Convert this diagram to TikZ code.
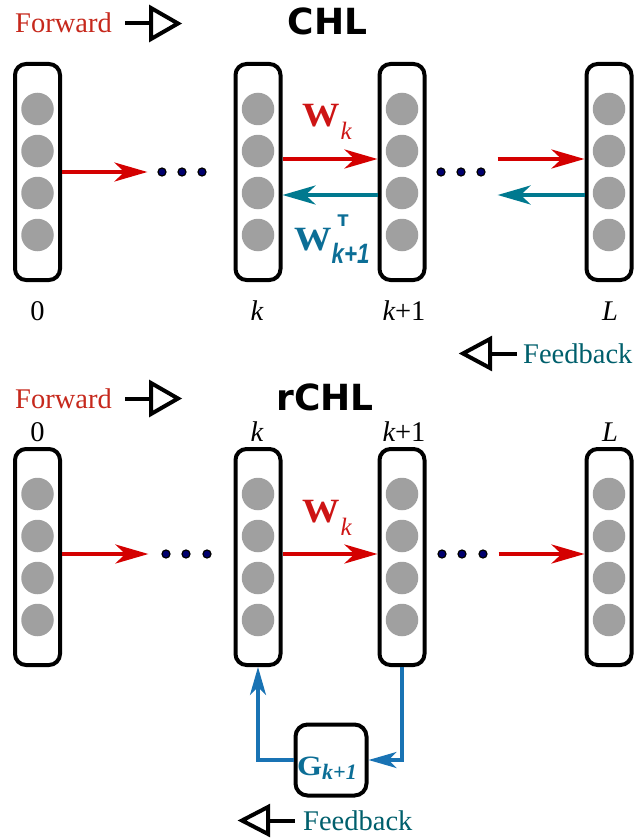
\documentclass[tikz,border=0pt]{standalone}
\usepackage{fontspec}
\usepackage{graphicx}
\newfontfamily\tms{Liberation Serif}
\newfontfamily\tmsbf{Liberation Serif Bold}
\newfontfamily\dvs{DejaVu Sans}
\newfontfamily\lsans{Liberation Sans}
\usetikzlibrary{arrows.meta}
\definecolor{fwdred}{RGB}{198,40,28}
\definecolor{arrred}{RGB}{212,0,0}
\definecolor{wred}{RGB}{205,20,20}
\definecolor{teal1}{RGB}{0,121,143}
\definecolor{wblue}{RGB}{12,110,150}
\definecolor{fbteal}{RGB}{0,95,108}
\definecolor{fbblue}{RGB}{25,115,180}
\definecolor{neur}{RGB}{160,160,160}
\definecolor{dotc}{RGB}{0,0,110}
\tikzset{
  layer/.style={draw=black, line width=4pt, rounded corners=11pt, minimum width=45pt, minimum height=216pt, inner sep=0pt, fill=white},
  neuron/.style={circle, fill=neur, minimum size=32.5pt, inner sep=0pt},
  dotn/.style={circle, fill=dotc, draw=black, line width=1.2pt, minimum size=8pt, inner sep=0pt},
  fwdarr/.style={draw=arrred, line width=4pt, -{Stealth[length=33pt, width=19pt, inset=10pt]}},
  bckarr/.style={draw=teal1, line width=4pt, -{Stealth[length=33pt, width=19pt, inset=10pt]}},
  fbarr/.style={draw=fbblue, line width=3.3pt, -{Stealth[length=28pt, width=16pt, inset=8pt]}},
  gbox/.style={draw=black, line width=4pt, rounded corners=12pt, minimum size=71pt, inner sep=0pt, fill=white},
  lbl/.style={anchor=base, inner sep=0pt, font=\tms\fontsize{28.5}{30}\selectfont},
  legtext/.style={anchor=base west, inner sep=0pt, font=\tms\fontsize{28.5}{30}\selectfont},
  title/.style={anchor=base, inner sep=0pt, font=\dvs\bfseries\fontsize{36}{36}\selectfont},
  sym/.style={draw=black, line width=4pt},
  wlbl/.style={anchor=base west, inner sep=0pt}
}
\newcommand{\bigW}{\scalebox{1.1}[1]{\tmsbf\fontsize{34}{34}\selectfont W}}
\newcommand{\Wk}{\bigW\kern1pt\raisebox{-13pt}{\tms\itshape\fontsize{25}{25}\selectfont k}}
\begin{document}
\begin{tikzpicture}[x=1pt,y=-1pt]
\useasboundingbox (0,0) rectangle (636,840);

% ---------- top (CHL) ----------
\foreach \nm/\xx in {L0/37.5, Lk/258, Lk1/402, LL/609}{
  \node[layer] (\nm) at (\xx,172) {};
  \foreach \i/\dy in {1/-63,2/-21,3/21,4/63}
    \node[neuron] (\nm-\i) at (\xx,172+\dy) {};
}
\foreach \i/\xx in {1/162,2/182,3/202} \node[dotn] (td0\i) at (\xx,172) {};
\foreach \i/\xx in {1/441,2/461,3/481} \node[dotn] (tdk\i) at (\xx,172) {};

\draw[fwdarr] (L0.east) -- ([xshift=-10pt]td01.west);
\draw[fwdarr] ([yshift=13pt]Lk.east) -- ([yshift=13pt]Lk1.west);
\draw[bckarr] ([yshift=-23pt]Lk1.west) -- ([yshift=-23pt]Lk.east);
\draw[fwdarr] ([xshift=12pt,yshift=13pt]tdk3.east) -- ([yshift=13pt]LL.west);
\draw[bckarr] ([yshift=-23pt]LL.west) -- ([xshift=12pt,yshift=-23pt]tdk3.east);

\node[wlbl, text=wred] (wk1) at (302,127) {\Wk};
\node[wlbl, text=wblue] (wt1) at (294,250) {\bigW\rlap{\hspace{6pt}\raisebox{24pt}{\dvs\bfseries\fontsize{16}{16}\selectfont T}}\raisebox{-13pt}{\scalebox{0.8}[1]{\lsans\bfseries\itshape\fontsize{28}{28}\selectfont k+1}}};

\node[lbl] (t0) at (37.5,320) {0};
\node[lbl] (tk) at (257,320) {\itshape k};
\node[lbl] (tk1) at (404,320) {{\itshape k}+1};
\node[lbl] (tL) at (610,320) {\itshape L};

\node[title] (chl) at (327.5,35) {CHL};
\node[legtext, text=fwdred] (fwd1) at (15,33) {Forward};
\draw[sym] (125,23.5) -- (151,23.5);
\draw[sym] (151,8) -- (151,39) -- (178,23.5) -- cycle;

\node[legtext, text=fbteal] (fb1) at (523,363) {Feedback};
\draw[sym] (490,353.5) -- (517,353.5);
\draw[sym] (490,339) -- (490,368) -- (463,353.5) -- cycle;

% ---------- bottom (rCHL) ----------
\foreach \nm/\xx in {B0/37.5, Bk/258, Bk1/402, BL/609}{
  \node[layer] (\nm) at (\xx,557) {};
  \foreach \i/\dy in {1/-63,2/-21,3/21,4/63}
    \node[neuron] (\nm-\i) at (\xx,557+\dy) {};
}
\foreach \i/\xx in {1/166,2/186,3/207} \node[dotn] (bd0\i) at (\xx,554) {};
\foreach \i/\xx in {1/442,2/462,3/483} \node[dotn] (bdk\i) at (\xx,554) {};

\draw[fwdarr] ([yshift=3pt]B0.east) -- ([xshift=-13pt]bd01.west);
\draw[fwdarr] ([yshift=3pt]Bk.east) -- ([yshift=3pt]Bk1.west);
\draw[fwdarr] ([xshift=11pt]bdk3.east) -- ([yshift=3pt]BL.west);

\node[wlbl, text=wred] (wk2) at (302,522) {\Wk};

\node[lbl] (b0) at (37.5,441) {0};
\node[lbl] (bk) at (257,441) {\itshape k};
\node[lbl] (bk1) at (404,441) {{\itshape k}+1};
\node[lbl] (bL) at (610,441) {\itshape L};

\node[title] (rchl) at (325,410) {rCHL};
\node[legtext, text=fwdred] (fwd2) at (15,408) {Forward};
\draw[sym] (125,398.5) -- (151,398.5);
\draw[sym] (151,383) -- (151,414) -- (178,398.5) -- cycle;

\node[gbox] (G) at (331,760) {};
\node[wlbl, text=wblue] (glbl) at (297,775) {\scalebox{1.15}[1]{\tmsbf\fontsize{28}{28}\selectfont G}\raisebox{-4pt}{\tms\bfseries\itshape\fontsize{22}{22}\selectfont k+1}};
\draw[fbarr] (Bk1.south) |- (G.east);
\draw[fbarr] (G.west) -| (Bk.south);

\node[legtext, text=fbteal] (fb2) at (303,830) {Feedback};
\draw[sym] (268,820.5) -- (295,820.5);
\draw[sym] (268,807) -- (268,834) -- (242,820.5) -- cycle;
\end{tikzpicture}
\end{document}
